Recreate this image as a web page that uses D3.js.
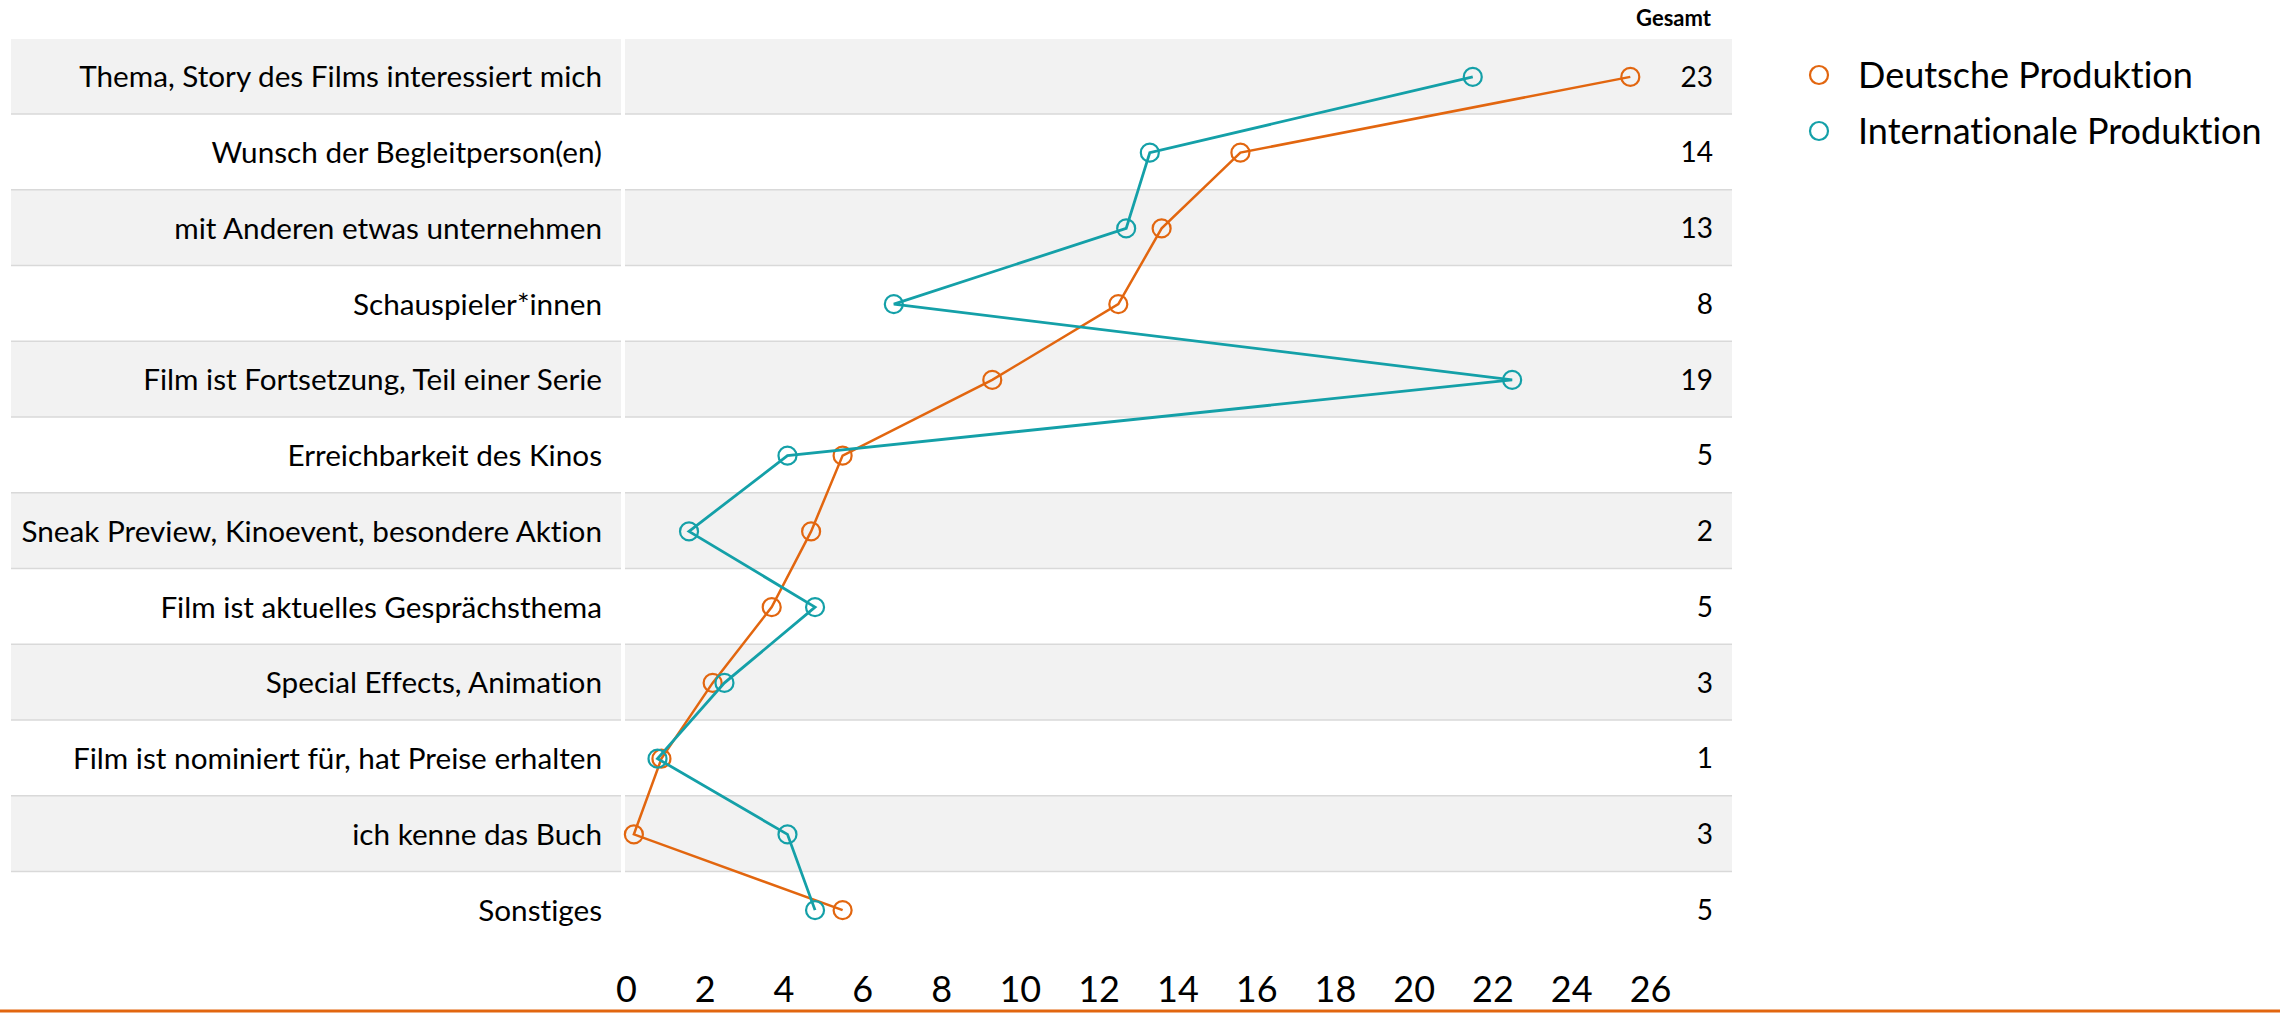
<html>
<script src="https://d3js.org/d3.v7.min.js"></script>
<style>
    body { margin: 0; background: #fff; }
    text { font-family: Lato, "Open Sans", sans-serif; fill: #000; font-variant-ligatures: none; }
    .axis path, .axis line { display: none; }
</style>
<body>
<svg id="chart" width=2280 height=1013></svg>
<script>
// Data
var categories = [
    "Thema, Story des Films interessiert mich",
    "Wunsch der Begleitperson(en)",
    "mit Anderen etwas unternehmen",
    "Schauspieler*innen",
    "Film ist Fortsetzung, Teil einer Serie",
    "Erreichbarkeit des Kinos",
    "Sneak Preview, Kinoevent, besondere Aktion",
    "Film ist aktuelles Gesprächsthema",
    "Special Effects, Animation",
    "Film ist nominiert für, hat Preise erhalten",
    "ich kenne das Buch",
    "Sonstiges"
];
var deutsche = [25.5, 15.6, 13.6, 12.5, 9.3, 5.5, 4.7, 3.7, 2.2, 0.9, 0.2, 5.5];
var international = [21.5, 13.3, 12.7, 6.8, 22.5, 4.1, 1.6, 4.8, 2.5, 0.8, 4.1, 4.8];
var gesamt = [23, 14, 13, 8, 19, 5, 2, 5, 3, 1, 3, 5];
var xTicks = [0, 2, 4, 6, 8, 10, 12, 14, 16, 18, 20, 22, 24, 26];
var seriesNames = ["Deutsche Produktion", "Internationale Produktion"];

var orange = "#E2660F", teal = "#14A0A8";

var svg = d3.select("#chart");

var x = d3.scaleLinear().domain([0, 26]).range([626, 1650]);
var y = d3.scaleBand().domain(categories).range([39, 948]).padding(0);
var bw = y.bandwidth();

// row bands, label column and plot column
var rows = svg.append("g");
categories.forEach(function(c, i) {
    var fill = i % 2 === 0 ? "#F2F2F2" : "#FFFFFF";
    rows.append("rect").attr("x", 11).attr("y", y(c)).attr("width", 610).attr("height", bw).attr("fill", fill);
    rows.append("rect").attr("x", 625).attr("y", y(c)).attr("width", 1107).attr("height", bw).attr("fill", fill);
    if (i < categories.length - 1) {
        rows.append("line").attr("x1", 11).attr("x2", 621)
            .attr("y1", y(c) + bw).attr("y2", y(c) + bw)
            .attr("stroke", "#D9D9D9").attr("stroke-width", 3);
        rows.append("line").attr("x1", 625).attr("x2", 1732)
            .attr("y1", y(c) + bw).attr("y2", y(c) + bw)
            .attr("stroke", "#D9D9D9").attr("stroke-width", 3);
    }
});

// category labels
svg.append("g").selectAll("text")
    .data(categories)
    .enter().append("text")
    .attr("x", 602)
    .attr("y", function(d) { return y(d) + bw / 2; })
    .attr("dy", "0.35em")
    .attr("text-anchor", "end")
    .style("font-size", "29.7px")
    .text(function(d) { return d; });

// Gesamt column
svg.append("text")
    .attr("x", 1711).attr("y", 26)
    .attr("text-anchor", "end")
    .style("font-size", "22px")
    .style("font-weight", "bold")
    .text("Gesamt");

svg.append("g").selectAll("text")
    .data(gesamt)
    .enter().append("text")
    .attr("x", 1713)
    .attr("y", function(d, i) { return y(categories[i]) + bw / 2; })
    .attr("dy", "0.35em")
    .attr("text-anchor", "end")
    .style("font-size", "28px")
    .text(function(d) { return d; });

// lines + markers
function drawSeries(values, color, width) {
    var line = d3.line()
        .x(function(d) { return x(d); })
        .y(function(d, i) { return y(categories[i]) + bw / 2; });
    svg.append("path")
        .datum(values)
        .attr("fill", "none")
        .attr("stroke", color)
        .attr("stroke-width", width)
        .attr("d", line);
    svg.append("g").selectAll("circle")
        .data(values)
        .enter().append("circle")
        .attr("cx", function(d) { return x(d); })
        .attr("cy", function(d, i) { return y(categories[i]) + bw / 2; })
        .attr("r", 9)
        .attr("fill", "none")
        .attr("stroke", color)
        .attr("stroke-width", 2.2);
}
drawSeries(deutsche, orange, 2.5);
drawSeries(international, teal, 2.8);

// x axis
var xAxis = svg.append("g")
    .attr("class", "axis")
    .attr("transform", "translate(0,976)")
    .call(d3.axisBottom(x).tickValues(xTicks).tickSize(0).tickPadding(0));
xAxis.selectAll("text").style("font-size", "36px").attr("dy", "0.71em");

// bottom rule
svg.append("line")
    .attr("x1", 0).attr("x2", 2280)
    .attr("y1", 1011).attr("y2", 1011)
    .attr("stroke", orange).attr("stroke-width", 3);

// legend
var legend = svg.append("g");
[orange, teal].forEach(function(col, i) {
    legend.append("circle")
        .attr("cx", 1819).attr("cy", 75 + i * 56)
        .attr("r", 9)
        .attr("fill", "none")
        .attr("stroke", col)
        .attr("stroke-width", 2.2);
    legend.append("text")
        .attr("x", 1858).attr("y", 75 + i * 56)
        .attr("dy", "0.35em")
        .style("font-size", "36px")
        .text(seriesNames[i]);
});
</script>
</body>
</html>
